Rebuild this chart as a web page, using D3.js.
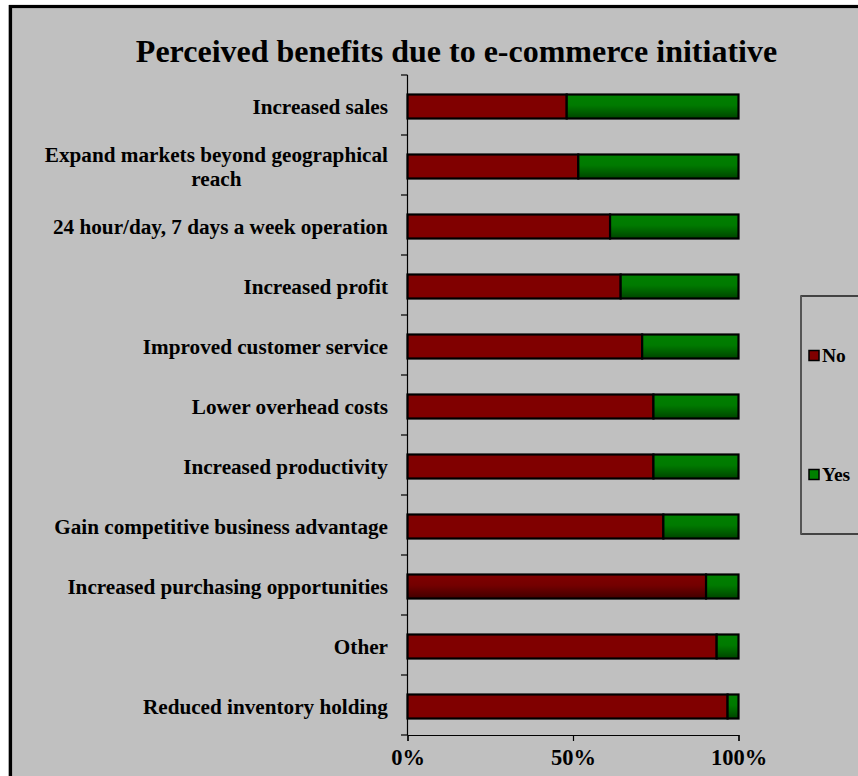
<!DOCTYPE html>
<html>
<head>
<meta charset="utf-8">
<script src="https://cdn.jsdelivr.net/npm/d3@7"></script>
<style>
  html, body { margin: 0; padding: 0; background: #ffffff; }
  svg { display: block; }
  text { font-family: "Liberation Serif", "Times New Roman", serif; font-weight: bold; fill: #000; }
</style>
</head>
<body>
<svg id="chart" width="858" height="776"></svg>
<script>
// Survey answers per benefit: share of respondents answering No / Yes (%)
const categories = [
  "Increased sales",
  "Expand markets beyond geographical|reach",
  "24 hour/day, 7 days a week operation",
  "Increased profit",
  "Improved customer service",
  "Lower overhead costs",
  "Increased productivity",
  "Gain competitive business advantage",
  "Increased purchasing opportunities",
  "Other",
  "Reduced inventory holding"
];
const noValues  = [48.1, 51.6, 61.2, 64.4, 70.9, 74.3, 74.3, 77.3, 90.2, 93.4, 96.7];
const yesValues = [51.9, 48.4, 38.8, 35.6, 29.1, 25.7, 25.7, 22.7,  9.8,  6.6,  3.3];
const seriesNames = ["No", "Yes"];
const xTicks = [0, 50, 100];
const titleText = "Perceived benefits due to e-commerce initiative";

const svg = d3.select("#chart");
const W = 858, H = 776;
const FONT = "'Liberation Serif','Times New Roman',serif";

// gradients for the bar fills
const defs = svg.append("defs");
function grad(id, c0, c1, c2) {
  const g = defs.append("linearGradient").attr("id", id)
    .attr("x1", 0).attr("y1", 0).attr("x2", 0).attr("y2", 1);
  g.append("stop").attr("offset", "0%").attr("stop-color", c0);
  g.append("stop").attr("offset", "45%").attr("stop-color", c1);
  g.append("stop").attr("offset", "100%").attr("stop-color", c2);
}
grad("gYes", "#008000", "#007a00", "#004400");
grad("gNoDark", "#800000", "#740000", "#420000");

// chart area with frame
svg.append("rect").attr("x", 8).attr("y", 5).attr("width", W).attr("height", H)
  .attr("fill", "#c0c0c0");
svg.append("rect").attr("x", 10.5).attr("y", 6.5).attr("width", W + 20).attr("height", H + 20)
  .attr("fill", "none").attr("stroke", "#000").attr("stroke-width", 3.2);

const x = d3.scaleLinear().domain([0, 100]).range([407.5, 738.5]);
const y = d3.scaleBand().domain(categories).range([75, 735])
  .paddingInner(0.6).paddingOuter(0.3);

const rows = categories.map((c, i) => ({ cat: c, No: noValues[i], Yes: yesValues[i] }));
const stack = d3.stack().keys(seriesNames)(rows);

const fills = {
  No: d => d.data.cat === "Increased purchasing opportunities" ? "url(#gNoDark)" : "#800000",
  Yes: () => "url(#gYes)"
};

const bars = svg.append("g").attr("transform", "translate(0,1.5)");
stack.forEach(layer => {
  bars.append("g").selectAll("rect").data(layer).join("rect")
    .attr("x", d => x(d[0]))
    .attr("y", d => y(d.data.cat))
    .attr("width", d => x(d[1]) - x(d[0]))
    .attr("height", y.bandwidth())
    .attr("fill", fills[layer.key])
    .attr("stroke", "#000").attr("stroke-width", 2.2);
});

// axes
const yAxisG = svg.append("g");
yAxisG.append("line").attr("x1", 407.5).attr("x2", 407.5).attr("y1", 75).attr("y2", 735)
  .attr("stroke", "#000").attr("stroke-width", 1.2);
const boundaries = categories.map(c => y(c) - y.step() * 0.3).concat([735]);
yAxisG.selectAll("line.tick").data(boundaries).join("line").attr("class", "tick")
  .attr("x1", 401).attr("x2", 407.5).attr("y1", d => d).attr("y2", d => d)
  .attr("stroke", "#000").attr("stroke-width", 1.2);

const xAxis = d3.axisBottom(x).tickValues(xTicks).tickSize(6).tickFormat(d => d + "%");
const xg = svg.append("g").attr("transform", "translate(0,735)").call(xAxis);
xg.attr("font-family", null).attr("font-size", null);
xg.select(".domain").attr("stroke", "#000").attr("stroke-width", 1.2);
xg.selectAll(".tick line").attr("stroke", "#000").attr("stroke-width", 1.2);
xg.selectAll(".tick text").attr("y", 30).attr("dy", 0).attr("fill", "#000")
  .style("font-family", FONT).style("font-weight", "bold").style("font-size", "22.5px");

// category labels
const labels = svg.append("g");
categories.forEach(c => {
  const lines = c.split("|");
  const cy = y(c) + y.bandwidth() / 2 + 1.5;
  const t = labels.append("text").attr("text-anchor", "middle")
    .style("font-size", "21.2px");
  lines.forEach((ln, i) => {
    t.append("tspan").attr("x", 0)
      .attr("y", cy + 7 - (lines.length - 1) * 11.5 + i * 24).text(ln);
  });
  // right-align the block at x = 388, lines centred on each other
  const w = t.node().getBBox().width;
  t.attr("transform", `translate(${388 - w / 2},0)`);
});

// title
svg.append("text").attr("x", 456.5).attr("y", 62).attr("text-anchor", "middle")
  .style("font-size", "32px").text(titleText);

// legend
const lg = svg.append("g");
lg.append("rect").attr("x", 801).attr("y", 296).attr("width", 80).attr("height", 238)
  .attr("fill", "#c0c0c0").attr("stroke", "#000").attr("stroke-width", 1.3);
lg.append("line").attr("x1", 801).attr("x2", 801).attr("y1", 296).attr("y2", 534)
  .attr("stroke", "#555").attr("stroke-width", 2);
const legendY = d3.scalePoint().domain(seriesNames).range([356, 475]);
seriesNames.forEach(s => {
  lg.append("rect").attr("x", 809).attr("y", legendY(s) - 5.5).attr("width", 10).attr("height", 10)
    .attr("fill", s === "No" ? "#800000" : "#008000").attr("stroke", "#000").attr("stroke-width", 1.5);
  lg.append("text").attr("x", 822).attr("y", legendY(s) + 6)
    .style("font-size", "19.5px").text(s);
});
</script>
</body>
</html>
